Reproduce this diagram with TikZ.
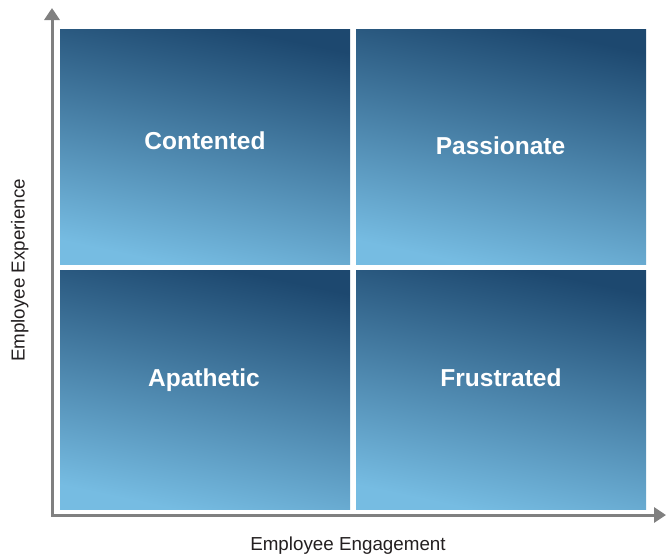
\documentclass[tikz,border=0pt]{standalone}
\usepackage{fontspec}
\setmainfont{Liberation Sans}
\usetikzlibrary{arrows.meta}
\definecolor{quaddark}{HTML}{1D486F}
\definecolor{quadlight}{HTML}{76BCE2}
\definecolor{axisgray}{HTML}{808080}
\definecolor{labelgray}{HTML}{231F20}
\tikzset{
  quad/.style = {rectangle, inner sep=0pt, minimum width=290pt,
    top color=quaddark, bottom color=quadlight, shading angle=-12},
  quad_t/.style = {quad, minimum height=235pt},
  quad_b/.style = {quad, minimum height=239pt},
  quadtext/.style = {anchor=base, inner sep=0pt, text=white,
    font=\bfseries\fontsize{24.5}{28}\selectfont},
  axislabel/.style = {anchor=base, inner sep=0pt, text=labelgray,
    font=\fontsize{18.8}{22}\selectfont},
  axisline/.style = {draw=axisgray, line width=3pt,
    {Triangle[length=12pt,width=15pt]}-{Triangle[length=12pt,width=15pt]}}
}
\begin{document}
\begin{tikzpicture}[x=1pt, y=-1pt]
                  \useasboundingbox (0,0) rectangle (670,554);
                  \node [quad_t] (contented) at (205,146.5) {};
                  \node [quad_t] (passionate) at (501,146.5) {};
                  \node [quad_b] (apathetic) at (205,389.5) {};
                  \node [quad_b] (frustrated) at (501,389.5) {};
                  \node [quadtext] (contented_t) at (205,149) {Contented};
                  \node [quadtext] (passionate_t) at (500.5,154) {Passionate};
                  \node [quadtext] (apathetic_t) at (204,386) {Apathetic};
                  \node [quadtext] (frustrated_t) at (501,386) {Frustrated};
                  \coordinate (origin) at (52,515);
                  \coordinate (ytip) at (52,8);
                  \coordinate (xtip) at (666,515);
                  \draw [axisline] (ytip) -- (origin) -- (xtip);
                  \node [axislabel] (xlabel) at (348,550.3) {Employee Engagement};
                  \node [axislabel, rotate=90] (ylabel) at (24.5,270.5) {Employee Experience};
                \end{tikzpicture}
\end{document}
